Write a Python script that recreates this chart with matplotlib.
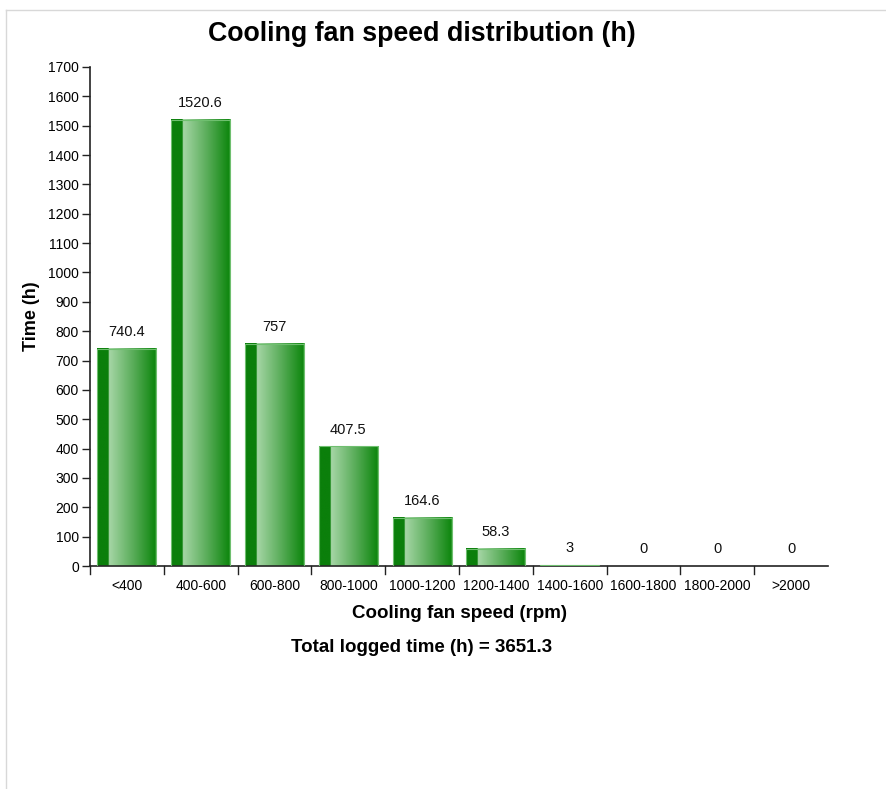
import numpy as np
import matplotlib
matplotlib.use('Agg')
import matplotlib.pyplot as plt
from matplotlib.colors import LinearSegmentedColormap
from matplotlib.lines import Line2D

plt.rcParams['font.family'] = ['Liberation Sans', 'DejaVu Sans']

# data
categories = ['<400', '400-600', '600-800', '800-1000', '1000-1200',
              '1200-1400', '1400-1600', '1600-1800', '1800-2000', '>2000']
hours = [740.4, 1520.6, 757, 407.5, 164.6, 58.3, 3, 0, 0, 0]
hour_labels = ['740.4', '1520.6', '757', '407.5', '164.6', '58.3', '3', '0', '0', '0']
total_hours = 3651.3

# bar shading: dark stripe on the left, then light green fading to dark
bar_cmap = LinearSegmentedColormap.from_list(
    'bar', [(0.0, '#0b7f0b'), (0.19, '#0b7f0b'), (0.2, '#a6d6a6'),
            (0.6, '#5aad5a'), (0.97, '#0f870f'), (1.0, '#6fbf6f')])
grad = np.linspace(0, 1, 256).reshape(1, -1)

fig = plt.figure(figsize=(8.86, 7.89), dpi=100)
ax = fig.add_axes([90/886, 1 - 566/789, (828 - 90)/886, (566 - 67)/789])

x = np.arange(len(categories))
bw = 0.8
bars = ax.bar(x, hours, width=bw, color='none', edgecolor='#6fbf6f',
              linewidth=0.8, zorder=3)
for b, h in zip(bars, hours):
    if h <= 0:
        b.set_visible(False)
        continue
    x0 = b.get_x()
    ax.imshow(grad, cmap=bar_cmap, aspect='auto', interpolation='bilinear',
              extent=(x0, x0 + bw, 0, h), zorder=2)

for xi, h, lab in zip(x, hours, hour_labels):
    ax.annotate(lab, (xi, h), xytext=(0, 7), textcoords='offset points',
                ha='center', va='bottom', fontsize=10.5, color='#111111')

ax.set_xlim(-0.5, len(categories) - 0.5)
ax.set_ylim(0, 1700)
ax.set_yticks(np.arange(0, 1701, 100))
ax.tick_params(axis='y', direction='out', length=6, width=1, labelsize=10,
               pad=2, color='#222222')
ax.set_xticks(x)
ax.set_xticklabels(categories, fontsize=10)
ax.tick_params(axis='x', length=0, pad=9)
# tick marks on the category boundaries
for bx in np.arange(-0.5, len(categories) - 0.5, 1.0):
    ax.add_line(Line2D([bx, bx], [0, -0.016], transform=ax.get_xaxis_transform(),
                       color='#222222', lw=1, clip_on=False))

for s in ['top', 'right']:
    ax.spines[s].set_visible(False)
ax.spines['left'].set_color('#222222')
ax.spines['bottom'].set_color('#222222')
ax.spines['left'].set_linewidth(1.2)
ax.spines['bottom'].set_linewidth(1.2)

ax.set_ylabel('Time (h)', fontsize=13, fontweight='bold', labelpad=6)
ax.set_xlabel('Cooling fan speed (rpm)', fontsize=13.5, fontweight='bold', labelpad=9)

fig.text(422/886, 1 - 34/789, 'Cooling fan speed distribution (h)',
         ha='center', va='center', fontsize=19.3, fontweight='bold')
fig.text(422/886, 1 - 647/789, 'Total logged time (h) = %.1f' % total_hours,
         ha='center', va='center', fontsize=13.5, fontweight='bold')

# light page frame
fig.add_artist(Line2D([6/886, 1], [1 - 10/789, 1 - 10/789], color='#d8d8d8', lw=1))
fig.add_artist(Line2D([6/886, 6/886], [0, 1 - 10/789], color='#d8d8d8', lw=1))

fig.savefig('out.png', dpi=100)
